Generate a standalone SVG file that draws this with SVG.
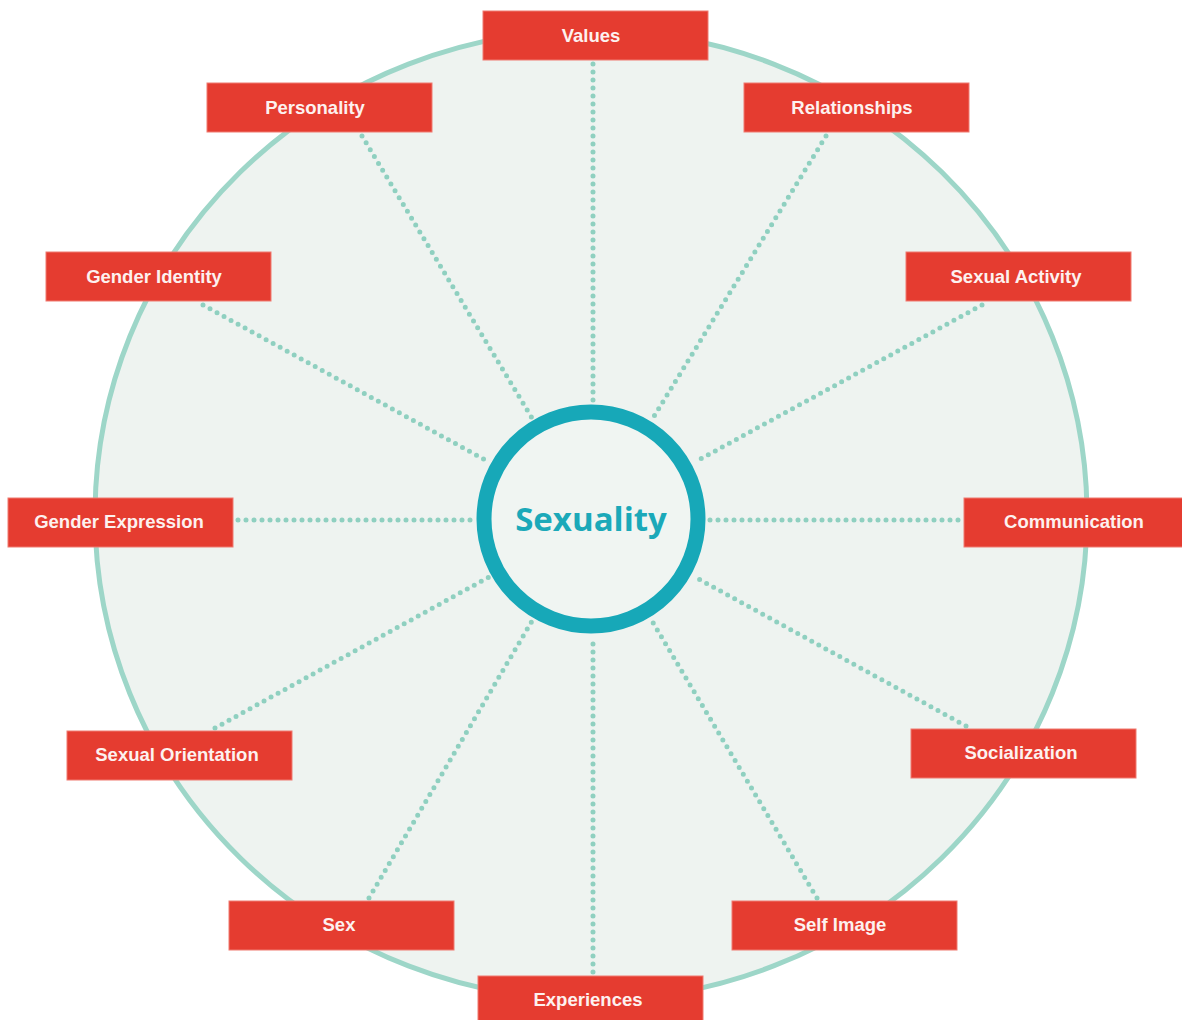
<svg xmlns="http://www.w3.org/2000/svg" width="1182" height="1020" viewBox="0 0 1182 1020">
<style>
.box{fill:#e53c30;stroke:#ef7a70;stroke-width:1}
.lbl{fill:#fdf1ef;font-family:"Liberation Sans",Arial,sans-serif;font-weight:bold;font-size:18.5px;text-anchor:middle}
.dot{stroke:#8fd0c0;stroke-width:5;stroke-linecap:round;stroke-dasharray:0 8;fill:none}
</style>
<rect width="1182" height="1020" fill="#ffffff"/>
<ellipse cx="591" cy="515" rx="496" ry="485" fill="#eef3f0" stroke="#9dd6c8" stroke-width="5"/>
<g id="connectors">
<line class="dot" x1="593" y1="64" x2="593" y2="401"/>
<line class="dot" x1="362" y1="136" x2="532" y2="418"/>
<line class="dot" x1="826" y1="136" x2="653" y2="418"/>
<line class="dot" x1="203" y1="305" x2="489" y2="462"/>
<line class="dot" x1="982" y1="305" x2="695" y2="462"/>
<line class="dot" x1="238" y1="520" x2="474" y2="520"/>
<line class="dot" x1="710" y1="520" x2="960" y2="520"/>
<line class="dot" x1="215" y1="728" x2="489" y2="577"/>
<line class="dot" x1="966" y1="726" x2="695" y2="577"/>
<line class="dot" x1="369" y1="898" x2="532" y2="621"/>
<line class="dot" x1="817" y1="898" x2="652" y2="621"/>
<line class="dot" x1="593" y1="972" x2="593" y2="637"/>
</g>
<g id="center">
<circle cx="591" cy="519" r="107" fill="#f0f5f2" stroke="#17a8b8" stroke-width="15"/>
<text x="591" y="531" fill="#1ba9b9" font-family="'Open Sans','Noto Sans',sans-serif" font-weight="700" font-size="33" text-anchor="middle">Sexuality</text>
</g>
<g id="values"><rect class="box" x="483" y="11" width="225" height="49"/><text class="lbl" x="591" y="42">Values</text></g>
<g id="personality"><rect class="box" x="207" y="83" width="225" height="49"/><text class="lbl" x="315" y="114">Personality</text></g>
<g id="relationships"><rect class="box" x="744" y="83" width="225" height="49"/><text class="lbl" x="852" y="114">Relationships</text></g>
<g id="gender-identity"><rect class="box" x="46" y="252" width="225" height="49"/><text class="lbl" x="154" y="283">Gender Identity</text></g>
<g id="sexual-activity"><rect class="box" x="906" y="252" width="225" height="49"/><text class="lbl" x="1016" y="283">Sexual Activity</text></g>
<g id="gender-expression"><rect class="box" x="8" y="498" width="225" height="49"/><text class="lbl" x="119" y="528">Gender Expression</text></g>
<g id="communication"><rect class="box" x="964" y="498" width="225" height="49"/><text class="lbl" x="1074" y="528">Communication</text></g>
<g id="sexual-orientation"><rect class="box" x="67" y="731" width="225" height="49"/><text class="lbl" x="177" y="761">Sexual Orientation</text></g>
<g id="socialization"><rect class="box" x="911" y="729" width="225" height="49"/><text class="lbl" x="1021" y="759">Socialization</text></g>
<g id="sex"><rect class="box" x="229" y="901" width="225" height="49"/><text class="lbl" x="339" y="931">Sex</text></g>
<g id="self-image"><rect class="box" x="732" y="901" width="225" height="49"/><text class="lbl" x="840" y="931">Self Image</text></g>
<g id="experiences"><rect class="box" x="478" y="976" width="225" height="49"/><text class="lbl" x="588" y="1006">Experiences</text></g>
</svg>
